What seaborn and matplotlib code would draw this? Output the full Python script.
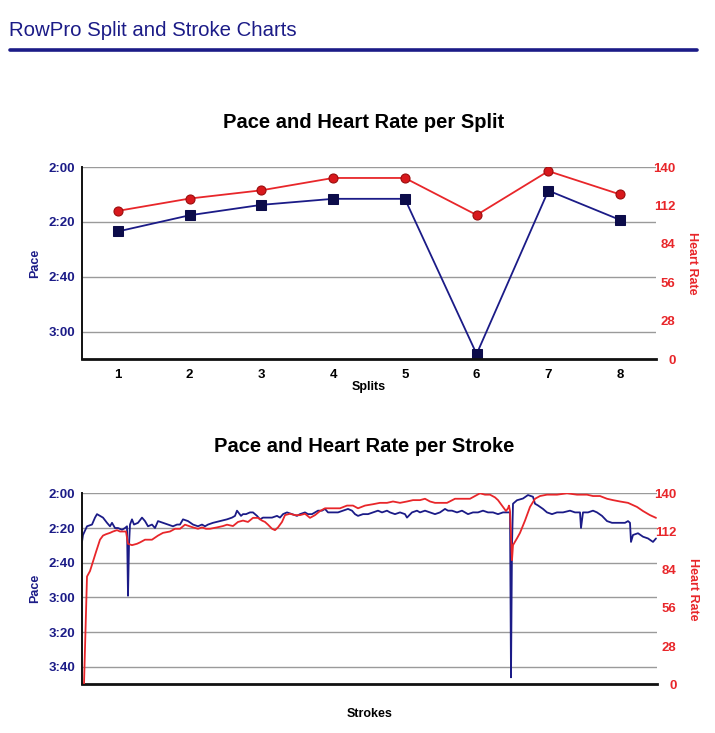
import matplotlib
matplotlib.use("Agg")
import matplotlib.pyplot as plt
from matplotlib.lines import Line2D
from matplotlib.ticker import FuncFormatter
import numpy as np
import pandas as pd
import seaborn as sns

# ---------------- data ----------------
splits = [1, 2, 3, 4, 5, 6, 7, 8]
split_pace = [143.5, 137.6, 133.8, 131.6, 131.6, 188.2, 128.6, 139.3]   # seconds / 500m
split_hr = [108, 117, 123, 132, 132, 105, 137, 120]

pace_ticks = [120, 140, 160, 180]
stroke_pace_ticks = [120, 140, 160, 180, 200, 220]
hr_ticks = [0, 28, 56, 84, 112, 140]

stroke_pace_x = [0, 1, 5, 10, 13, 15, 18, 21, 25, 28, 30, 33, 36, 40, 43, 45, 46, 47, 48, 50,
                 52, 56, 60, 63, 66, 70, 73, 76, 81, 86, 91, 95, 98, 101, 106, 111, 116, 120, 123, 126,
                 131, 138, 145, 150, 153, 155, 159, 161, 164, 168, 171, 175, 178, 181, 185, 190, 195, 198, 201, 205,
                 210, 215, 218, 223, 226, 230, 233, 236, 240, 243, 246, 251, 256, 261, 266, 270, 273, 276, 281, 286,
                 291, 296, 300, 305, 308, 313, 318, 323, 325, 330, 335, 338, 343, 348, 353, 358, 363, 366, 370, 375,
                 380, 386, 391, 396, 401, 406, 411, 416, 421, 426, 428, 429, 430, 431, 435, 441, 446, 451, 453, 456,
                 461, 465, 470, 475, 481, 488, 493, 498, 499, 501, 506, 511, 515, 520, 525, 530, 535, 540, 543, 546,
                 548, 549, 551, 556, 561, 566, 571, 574]
stroke_pace = [148, 144, 139, 138, 134, 132, 133, 134, 137, 139, 137, 140, 140, 141, 140, 139, 179, 150, 138, 135,
               138, 137, 134, 136, 139, 138, 140, 136, 137, 138, 139, 138, 138, 135, 136, 138, 139, 138, 139, 138,
               137, 136, 135, 134, 133, 130, 133, 132, 132, 131, 131, 133, 135, 134, 134, 134, 133, 134, 132, 131,
               132, 133, 132, 131, 132, 132, 131, 130, 130, 129, 131, 131, 131, 130, 129, 130, 132, 133, 132, 132,
               131, 130, 131, 130, 131, 132, 131, 132, 134, 131, 130, 131, 130, 131, 132, 131, 129, 130, 130, 131,
               130, 132, 131, 131, 130, 131, 131, 132, 131, 131, 131, 226, 150, 126, 124, 123, 121, 122, 126, 127,
               129, 131, 132, 131, 131, 130, 131, 131, 140, 131, 131, 130, 131, 133, 136, 137, 137, 137, 137, 136,
               137, 148, 144, 143, 145, 146, 148, 146]

stroke_hr_x = [2, 5, 8, 11, 14, 18, 21, 24, 28, 31, 35, 38, 41, 44, 46, 50, 55, 58, 63, 70,
               76, 81, 88, 93, 98, 103, 111, 116, 120, 124, 128, 135, 141, 145, 151, 156, 161, 166, 171, 176,
               180, 183, 186, 190, 193, 196, 200, 203, 208, 213, 218, 223, 228, 233, 238, 243, 250, 258, 265, 271,
               276, 283, 291, 298, 305, 311, 318, 325, 331, 338, 343, 348, 353, 360, 365, 373, 380, 388, 393, 398,
               403, 408, 413, 416, 420, 424, 426, 427, 428, 430, 431, 435, 438, 443, 448, 453, 458, 465, 475, 485,
               495, 505, 511, 518, 525, 531, 538, 546, 555, 561, 568, 574]
stroke_hr = [0, 79, 83, 90, 97, 106, 109, 110, 111, 112, 113, 112, 112, 112, 103, 102, 103, 104, 106, 106,
             109, 111, 112, 114, 114, 117, 115, 114, 115, 114, 114, 115, 116, 117, 116, 119, 120, 119, 122, 122,
             120, 119, 117, 114, 113, 115, 119, 124, 125, 124, 124, 125, 122, 124, 127, 129, 129, 129, 131, 131,
             129, 131, 132, 133, 133, 134, 133, 134, 135, 135, 136, 134, 133, 133, 133, 136, 136, 136, 138, 140,
             139, 139, 137, 135, 131, 127, 129, 131, 127, 91, 102, 107, 111, 120, 130, 136, 138, 139, 139, 140,
             139, 139, 138, 138, 136, 135, 134, 133, 130, 127, 124, 122]

# ---------------- style ----------------
NAVY = "#1b1b87"
NAVY_DARK = "#0c0c4a"
RED = "#e8262a"
RED_DARK = "#9a0d0d"
GRID = "#9a9a9a"

sns.set_theme(style="white")
plt.rcParams["font.family"] = ["Liberation Sans", "DejaVu Sans"]

W, H = 715, 733
fig = plt.figure(figsize=(W / 100, H / 100), dpi=100)
fig.patch.set_facecolor("white")

def fx(px):
    return px / W

def fy(py):
    return 1 - py / H

# header
fig.text(fx(9), fy(31), "RowPro Split and Stroke Charts", color=NAVY, fontsize=14.7,
         ha="left", va="center")
fig.add_artist(Line2D([fx(10), fx(697)], [fy(50), fy(50)], color=NAVY, lw=2.6))

fig.text(fx(364), fy(123), "Pace and Heart Rate per Split", fontsize=14.5, fontweight="bold",
         ha="center", va="center", color="black")
fig.text(fx(364), fy(447), "Pace and Heart Rate per Stroke", fontsize=14.5, fontweight="bold",
         ha="center", va="center", color="black")

pace_fmt = FuncFormatter(lambda v, p: f"{int(v // 60)}:{int(round(v % 60)):02d}")


def style_axes(ax, axr, pticks, plim):
    ax.set_ylim(plim[0], plim[1])
    ax.set_yticks(pticks)
    ax.yaxis.set_major_formatter(pace_fmt)
    ax.yaxis.grid(True, color=GRID, lw=1.0)
    ax.xaxis.grid(False)
    for s in ["top", "right"]:
        ax.spines[s].set_visible(False)
    ax.spines["left"].set_color("#111111")
    ax.spines["left"].set_linewidth(1.4)
    ax.spines["bottom"].set_color("#111111")
    ax.spines["bottom"].set_linewidth(2.0)
    ax.tick_params(axis="y", length=0, pad=5, labelsize=9.5, labelcolor=NAVY)
    for t in ax.get_yticklabels():
        t.set_fontweight("bold")
    ax.set_ylabel("Pace", color=NAVY, fontweight="bold", fontsize=9, labelpad=5)

    axr.set_ylim(0, 140)
    axr.set_yticks(hr_ticks)
    axr.grid(False)
    for s in axr.spines.values():
        s.set_visible(False)
    axr.tick_params(axis="y", length=0, pad=14, labelsize=9.5, labelcolor=RED)
    for t in axr.get_yticklabels():
        t.set_fontweight("bold")
        t.set_horizontalalignment("right")
    axr.set_ylabel("Heart Rate", color=RED, fontweight="bold", fontsize=9,
                   rotation=-90, labelpad=16)


# ---------------- top chart ----------------
ax1 = fig.add_axes([fx(82), fy(359), fx(574), 192 / H])
df_split = pd.DataFrame({"Split": splits, "Pace": split_pace, "HR": split_hr})
sns.lineplot(data=df_split, x="Split", y="Pace", ax=ax1, color=NAVY, lw=1.3,
             marker="s", markersize=6.5, markerfacecolor=NAVY_DARK, markeredgecolor=NAVY_DARK)
ax1r = ax1.twinx()
sns.lineplot(data=df_split, x="Split", y="HR", ax=ax1r, color=RED, lw=1.3,
             marker="o", markersize=6.5, markerfacecolor="#d8181c", markeredgecolor=RED_DARK,
             markeredgewidth=0.8)
ax1.set_xlim(0.5, 8.5)
ax1.set_xticks(splits)
ax1.tick_params(axis="x", length=0, pad=7.5, labelsize=9.5, labelcolor="black")
for t in ax1.get_xticklabels():
    t.set_fontweight("bold")
ax1.set_xlabel("Splits", fontweight="bold", fontsize=9, labelpad=0, color="black")
style_axes(ax1, ax1r, pace_ticks, (190, 120))

# ---------------- bottom chart ----------------
ax2 = fig.add_axes([fx(82), fy(684.3), fx(575), 191 / H])
df_pace = pd.DataFrame({"Stroke": stroke_pace_x, "Pace": stroke_pace})
df_hr = pd.DataFrame({"Stroke": stroke_hr_x, "HR": stroke_hr})
sns.lineplot(data=df_pace, x="Stroke", y="Pace", ax=ax2, color=NAVY, lw=1.3)
ax2r = ax2.twinx()
sns.lineplot(data=df_hr, x="Stroke", y="HR", ax=ax2r, color=RED, lw=1.3)
ax2.set_xlim(0, 575)
ax2r.set_xlim(0, 575)
ax2.set_xticks([])
ax2.set_xlabel("Strokes", fontweight="bold", fontsize=9, labelpad=17, color="black")
style_axes(ax2, ax2r, stroke_pace_ticks, (230, 120))

fig.savefig("out.png", dpi=100, facecolor="white")
